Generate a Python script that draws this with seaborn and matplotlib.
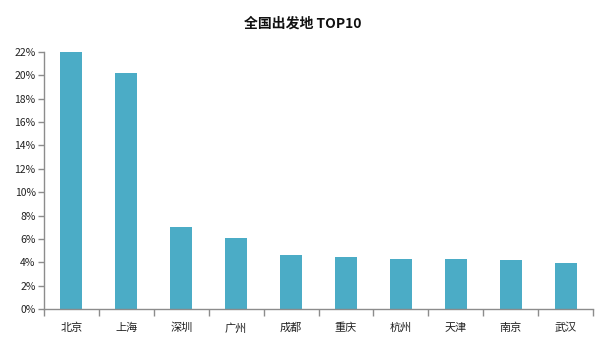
import matplotlib
matplotlib.use("Agg")
import matplotlib.pyplot as plt
import seaborn as sns
import pandas as pd
import numpy as np
from matplotlib.ticker import FuncFormatter, MultipleLocator, FixedLocator

cities = ["北京", "上海", "深圳", "广州", "成都", "重庆", "杭州", "天津", "南京", "武汉"]
shares = [22.0, 20.2, 7.0, 6.1, 4.6, 4.45, 4.3, 4.3, 4.2, 3.95]

sns.set_theme(style="white")
plt.rcParams["font.family"] = ["Noto Sans CJK SC", "DejaVu Sans"]

df = pd.DataFrame({"city": cities, "share": shares})

fig = plt.figure(figsize=(6.05, 3.4), dpi=100)
ax = fig.add_axes([44 / 605, 31 / 340, (593 - 44) / 605, (309 - 52) / 340])

sns.barplot(data=df, x="city", y="share", color="#4BACC6", saturation=1,
            width=0.4, linewidth=0, ax=ax)

ax.set_xlim(-0.5, len(cities) - 0.5)
ax.set_ylim(0, 22)
ax.yaxis.set_major_locator(MultipleLocator(2))
ax.yaxis.set_major_formatter(FuncFormatter(lambda v, p: f"{v:.0f}%"))
ax.set_xlabel("")
ax.set_ylabel("")

axis_color = "#8c8c8c"
for side in ["top", "right"]:
    ax.spines[side].set_visible(False)
for side in ["left", "bottom"]:
    ax.spines[side].set_color(axis_color)
    ax.spines[side].set_linewidth(1.0)

ax.tick_params(axis="y", which="major", left=True, length=4, width=1,
               color=axis_color, labelsize=7.5, pad=2, labelcolor="#222222")
ax.tick_params(axis="x", which="major", bottom=False, labelsize=8,
               pad=4, labelcolor="#222222")
ax.xaxis.set_minor_locator(FixedLocator(np.arange(-0.5, len(cities), 1.0)))
ax.tick_params(axis="x", which="minor", bottom=True, length=5, width=1,
               color=axis_color)

fig.suptitle("全国出发地 TOP10", x=0.5, y=1 - 24 / 340,
             fontsize=10, fontweight="bold", va="center", color="#111111")

fig.savefig("out.png", dpi=100)
